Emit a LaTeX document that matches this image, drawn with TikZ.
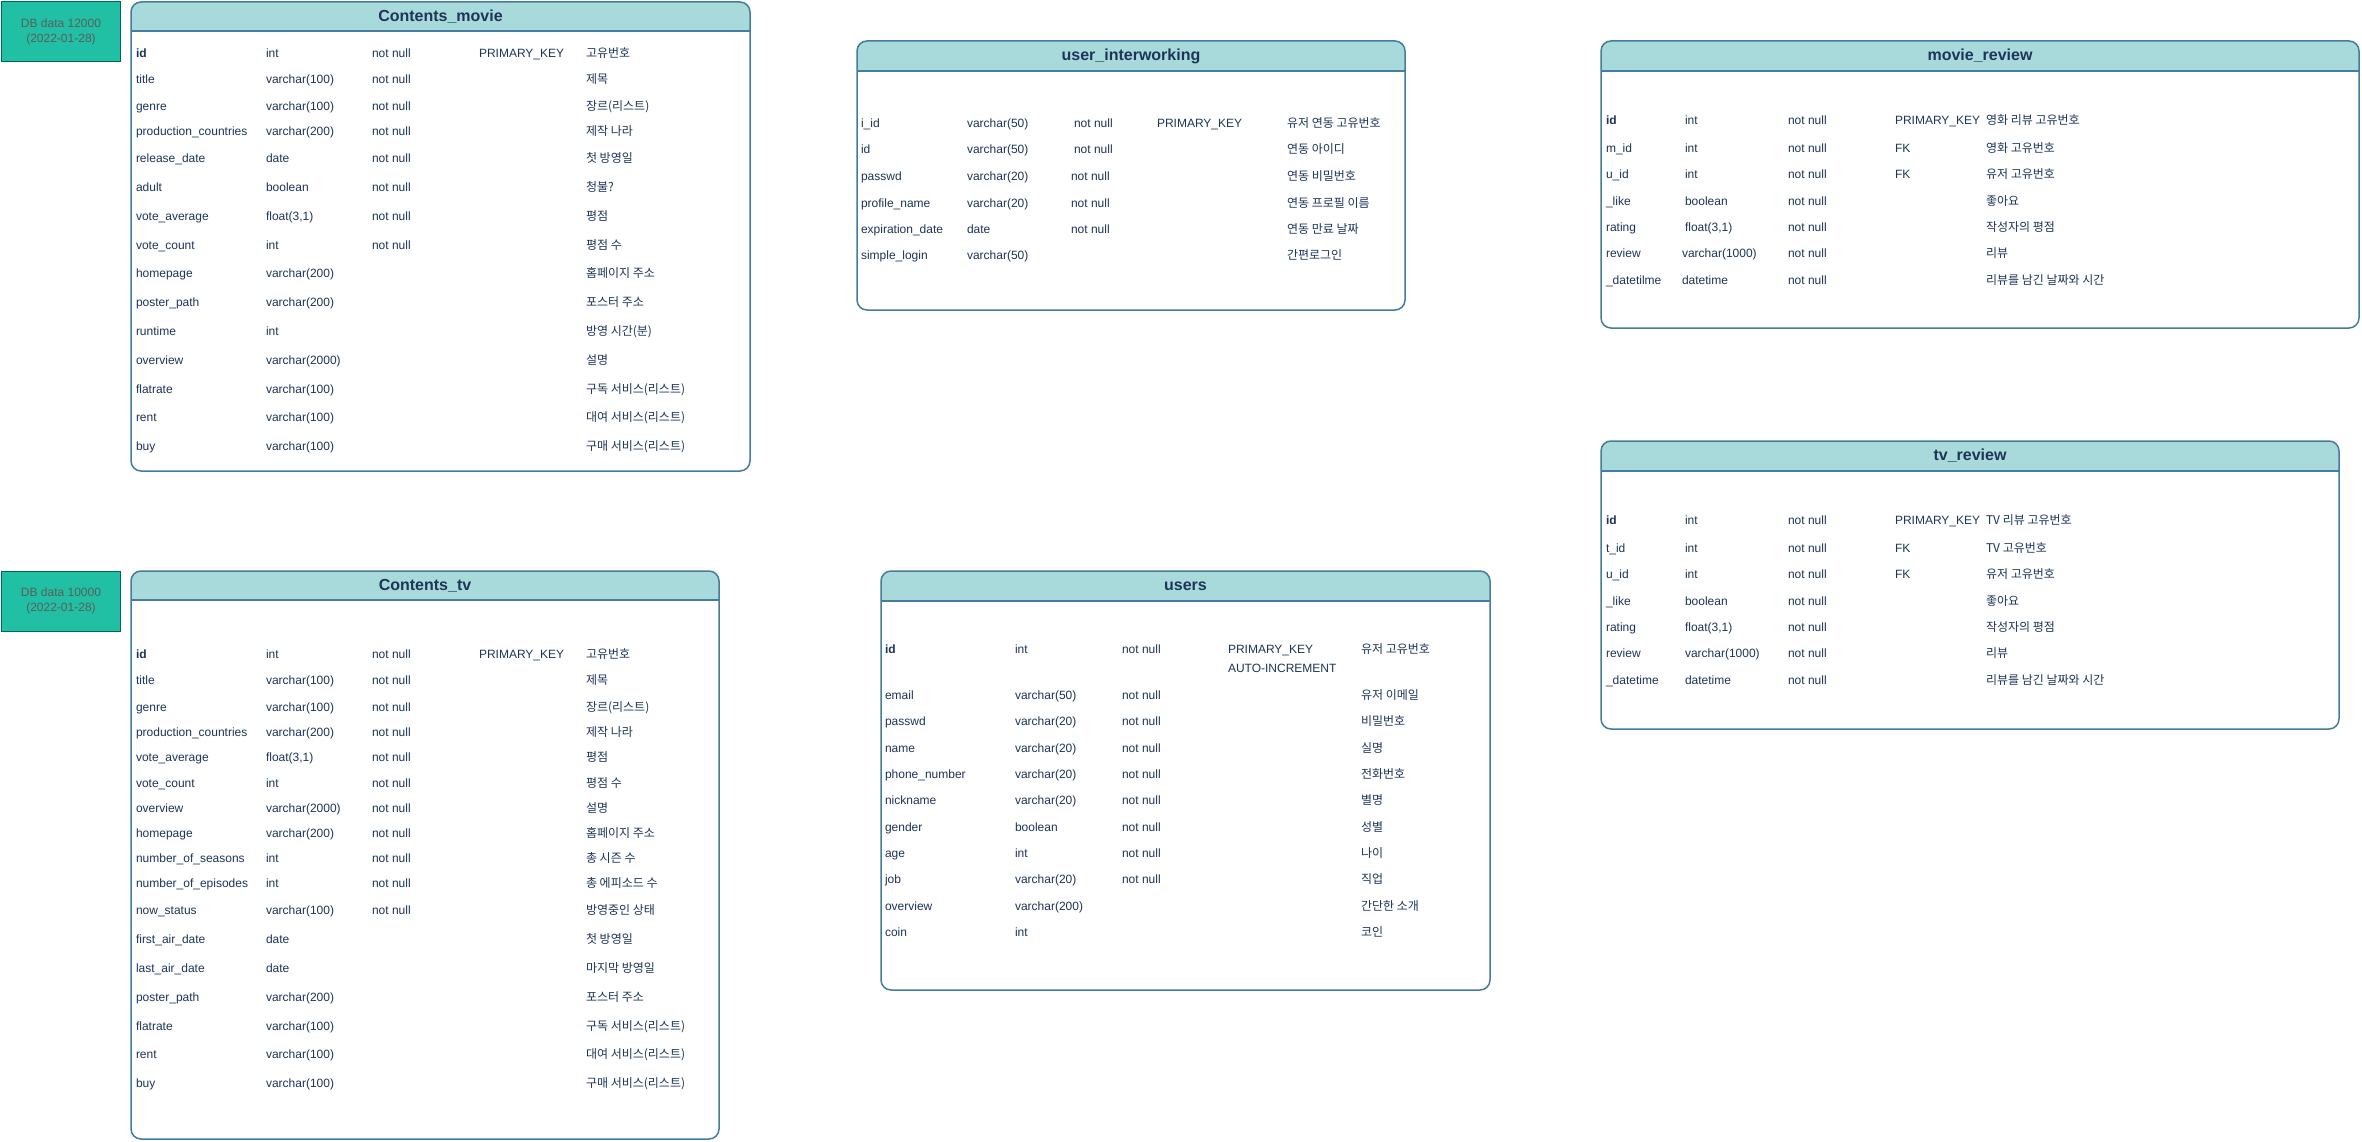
\documentclass[tikz,border=0pt]{standalone}
\usepackage{fontspec}
\setmainfont{Liberation Sans}
\newfontfamily\korfont{Noto Sans CJK KR}
\definecolor{strk}{HTML}{457B9D}
\definecolor{hdrfill}{HTML}{A8DADC}
\definecolor{txt}{HTML}{1D3557}
\definecolor{dbfill}{HTML}{21C0A5}
\definecolor{dbstroke}{HTML}{006658}
\definecolor{dbtext}{HTML}{5C5C5C}
\tikzset{
  cell/.style={anchor=base west, inner sep=0pt, outer sep=0pt, text=txt, font=\fontsize{12}{14}\selectfont},
  kcell/.style={cell, font=\fontsize{12}{14}\selectfont\korfont},
  ttl/.style={inner sep=0pt, text=txt, font=\fontsize{16}{19}\selectfont\bfseries},
  tblline/.style={draw=strk, line width=1.5pt},
  dbbox/.style={draw=dbstroke, fill=dbfill, line width=1.5pt, anchor=north west, inner sep=0pt,
    text=dbtext, font=\fontsize{12}{15}\selectfont, align=center},
}
% name, x1, y1, x2, y2, yheader, title
\newcommand{\erdtable}[7]{%
  \begin{scope}
    \clip[rounded corners=10pt] (#2,#3) rectangle (#4,#5);
    \fill[white] (#2,#3) rectangle (#4,#5);
    \fill[hdrfill] (#2,#3) rectangle (#4,#6);
  \end{scope}
  \draw[tblline] (#2,#6) -- (#4,#6);
  \draw[tblline, rounded corners=10pt] (#2,#3) rectangle (#4,#5);
  \node[ttl] (#1) at ({(#2+#4)/2},{(#3+#6)/2}) {#7};
}
% id, y, name, type, notnull, key, comment
\newcommand{\erdrow}[7]{%
  \node[cell] (#1n) at (\ercA,#2+4) {#3};
  \node[cell] (#1t) at (\ercB,#2+4) {#4};
  \if\relax\detokenize{#5}\relax\else\node[cell] (#1c) at (\ercC,#2+4) {#5};\fi
  \if\relax\detokenize{#6}\relax\else\node[cell] (#1k) at (\ercD,#2+4) {#6};\fi
  \node[kcell] (#1m) at (\ercE,#2+4) {#7};
}
\begin{document}
\begin{tikzpicture}[x=1pt,y=-1pt]
\useasboundingbox[fill=white] (0,0) rectangle (2362,1142);

% DB data boxes
\node[dbbox, minimum width=119pt, minimum height=60pt] (db1) at (0.75,0.75) {DB data 12000\\(2022-01-28)};
\node[dbbox, minimum width=119pt, minimum height=60pt] (db2) at (0.75,570.5) {DB data 10000\\(2022-01-28)};

% Contents_movie
\erdtable{movie}{131}{2}{750}{471}{31}{Contents\_movie}
\def\ercA{136}\def\ercB{266}\def\ercC{372}\def\ercD{479}\def\ercE{586}
\erdrow{m1}{53.3}{\textbf{id}}{int}{not null}{PRIMARY\_KEY}{고유번호}
\erdrow{m2}{80}{title}{varchar(100)}{not null}{}{제목}
\erdrow{m3}{106.7}{genre}{varchar(100)}{not null}{}{장르(리스트)}
\erdrow{m4}{131.7}{production\_countries}{varchar(200)}{not null}{}{제작 나라}
\erdrow{m5}{158.7}{release\_date}{date}{not null}{}{첫 방영일}
\erdrow{m6}{187.7}{adult}{boolean}{not null}{}{청불?}
\erdrow{m7}{216.7}{vote\_average}{float(3,1)}{not null}{}{평점}
\erdrow{m8}{245.7}{vote\_count}{int}{not null}{}{평점 수}
\erdrow{m9}{273.3}{homepage}{varchar(200)}{}{}{홈페이지 주소}
\erdrow{m10}{302.7}{poster\_path}{varchar(200)}{}{}{포스터 주소}
\erdrow{m11}{331.7}{runtime}{int}{}{}{방영 시간(분)}
\erdrow{m12}{360.7}{overview}{varchar(2000)}{}{}{설명}
\erdrow{m13}{389.3}{flatrate}{varchar(100)}{}{}{구독 서비스(리스트)}
\erdrow{m14}{417.3}{rent}{varchar(100)}{}{}{대여 서비스(리스트)}
\erdrow{m15}{446.7}{buy}{varchar(100)}{}{}{구매 서비스(리스트)}

% Contents_tv
\erdtable{tv}{131}{571}{719}{1139}{600}{Contents\_tv}
\erdrow{t1}{654.6}{\textbf{id}}{int}{not null}{PRIMARY\_KEY}{고유번호}
\erdrow{t2}{680.5}{title}{varchar(100)}{not null}{}{제목}
\erdrow{t3}{707.5}{genre}{varchar(100)}{not null}{}{장르(리스트)}
\erdrow{t4}{732.6}{production\_countries}{varchar(200)}{not null}{}{제작 나라}
\erdrow{t5}{757.7}{vote\_average}{float(3,1)}{not null}{}{평점}
\erdrow{t6}{783.6}{vote\_count}{int}{not null}{}{평점 수}
\erdrow{t7}{808.3}{overview}{varchar(2000)}{not null}{}{설명}
\erdrow{t8}{833.5}{homepage}{varchar(200)}{not null}{}{홈페이지 주소}
\erdrow{t9}{858.6}{number\_of\_seasons}{int}{not null}{}{총 시즌 수}
\erdrow{t10}{883.4}{number\_of\_episodes}{int}{not null}{}{총 에피소드 수}
\erdrow{t11}{910.3}{now\_status}{varchar(100)}{not null}{}{방영중인 상태}
\erdrow{t12}{939.2}{first\_air\_date}{date}{}{}{첫 방영일}
\erdrow{t13}{968.3}{last\_air\_date}{date}{}{}{마지막 방영일}
\erdrow{t14}{997.2}{poster\_path}{varchar(200)}{}{}{포스터 주소}
\erdrow{t15}{1026}{flatrate}{varchar(100)}{}{}{구독 서비스(리스트)}
\erdrow{t16}{1054.1}{rent}{varchar(100)}{}{}{대여 서비스(리스트)}
\erdrow{t17}{1083.3}{buy}{varchar(100)}{}{}{구매 서비스(리스트)}

% user_interworking
\erdtable{uiw}{857}{41}{1405}{310}{71}{user\_interworking}
\def\ercA{861}\def\ercB{967}\def\ercC{1074}\def\ercD{1157}\def\ercE{1287}
\erdrow{u1}{123.3}{i\_id}{varchar(50)}{not null}{PRIMARY\_KEY}{유저 연동 고유번호}
\erdrow{u2}{150}{id}{varchar(50)}{not null}{}{연동 아이디}
\def\ercC{1071}
\erdrow{u3}{176.7}{passwd}{varchar(20)}{not null}{}{연동 비밀번호}
\erdrow{u4}{203.3}{profile\_name}{varchar(20)}{not null}{}{연동 프로필 이름}
\erdrow{u5}{229.3}{expiration\_date}{date}{not null}{}{연동 만료 날짜}
\erdrow{u6}{255.7}{simple\_login}{varchar(50)}{}{}{간편로그인}

% movie_review
\erdtable{mrev}{1601}{41}{2359}{328}{71}{movie\_review}
\def\ercA{1606}\def\ercB{1685}\def\ercC{1788}\def\ercD{1895}\def\ercE{1986}
\erdrow{r1}{120.7}{\textbf{id}}{int}{not null}{PRIMARY\_KEY}{영화 리뷰 고유번호}
\erdrow{r2}{148.7}{m\_id}{int}{not null}{FK}{영화 고유번호}
\erdrow{r3}{174.7}{u\_id}{int}{not null}{FK}{유저 고유번호}
\erdrow{r4}{201.7}{\_like}{boolean}{not null}{}{좋아요}
\erdrow{r5}{227.7}{rating}{float(3,1)}{not null}{}{작성자의 평점}
\def\ercB{1682}
\erdrow{r6}{253.7}{review}{varchar(1000)}{not null}{}{리뷰}
\erdrow{r7}{280.7}{\_datetilme}{datetime}{not null}{}{리뷰를 남긴 날짜와 시간}

% tv_review
\erdtable{trev}{1601}{441}{2339}{729}{471}{tv\_review}
\def\ercB{1685}
\erdrow{v1}{520.7}{\textbf{id}}{int}{not null}{PRIMARY\_KEY}{TV 리뷰 고유번호}
\erdrow{v2}{548.7}{t\_id}{int}{not null}{FK}{TV 고유번호}
\erdrow{v3}{574.7}{u\_id}{int}{not null}{FK}{유저 고유번호}
\erdrow{v4}{601.7}{\_like}{boolean}{not null}{}{좋아요}
\erdrow{v5}{627.7}{rating}{float(3,1)}{not null}{}{작성자의 평점}
\erdrow{v6}{653.7}{review}{varchar(1000)}{not null}{}{리뷰}
\erdrow{v7}{680.7}{\_datetime}{datetime}{not null}{}{리뷰를 남긴 날짜와 시간}

% users
\erdtable{users}{881}{571}{1490}{990}{601}{users}
\def\ercA{885}\def\ercB{1015}\def\ercC{1122}\def\ercD{1228}\def\ercE{1361}
\erdrow{s1}{649.3}{\textbf{id}}{int}{not null}{PRIMARY\_KEY}{유저 고유번호}
\node[cell] (s1k2) at (\ercD,668.7+4) {AUTO-INCREMENT};
\erdrow{s2}{695.7}{email}{varchar(50)}{not null}{}{유저 이메일}
\erdrow{s3}{721.7}{passwd}{varchar(20)}{not null}{}{비밀번호}
\erdrow{s4}{748.7}{name}{varchar(20)}{not null}{}{실명}
\erdrow{s5}{774.7}{phone\_number}{varchar(20)}{not null}{}{전화번호}
\erdrow{s6}{800.7}{nickname}{varchar(20)}{not null}{}{별명}
\erdrow{s7}{827.7}{gender}{boolean}{not null}{}{성별}
\erdrow{s8}{853.7}{age}{int}{not null}{}{나이}
\erdrow{s9}{879.7}{job}{varchar(20)}{not null}{}{직업}
\erdrow{s10}{906.7}{overview}{varchar(200)}{}{}{간단한 소개}
\erdrow{s11}{932.7}{coin}{int}{}{}{코인}
\end{tikzpicture}
\end{document}
